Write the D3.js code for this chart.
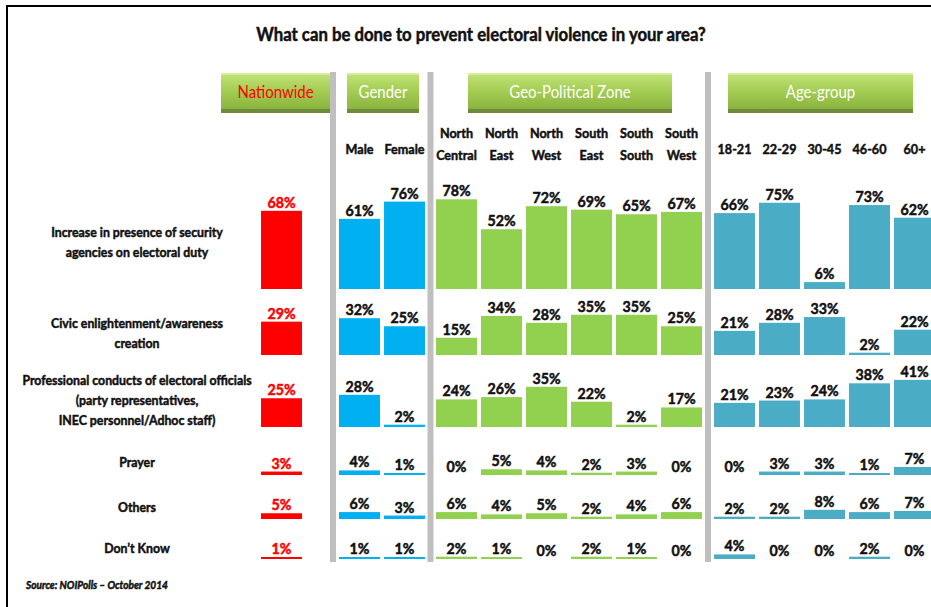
<!DOCTYPE html>
<meta charset="utf-8">
<script src="https://d3js.org/d3.v7.min.js"></script>
<style>
  body { margin: 0; background: #fff; }
  text { font-family: Lato, 'Open Sans', sans-serif; }
</style>
<div id="my_dataviz"></div>
<script>
  // answers (rows of the chart)
  var answers = [
    ["Increase in presence of security", "agencies on electoral duty"],
    ["Civic enlightenment/awareness", "creation"],
    ["Professional conducts of electoral officials", "(party representatives,", "INEC personnel/Adhoc staff)"],
    ["Prayer"],
    ["Others"],
    ["Don\u2019t Know"]
  ];

  // group headers and their columns
  var groupNames = ["Nationwide", "Gender", "Geo-Political Zone", "Age-group"];
  var nationwideCols = [[""]];
  var genderCols = [["Male"], ["Female"]];
  var zoneCols = [["North", "Central"], ["North", "East"], ["North", "West"], ["South", "East"], ["South", "South"], ["South", "West"]];
  var ageCols = [["18-21"], ["22-29"], ["30-45"], ["46-60"], ["60+"]];

  // values, one array per column, in answer order
  var nationwide = [[68, 29, 25, 3, 5, 1]];
  var gender = [
    [61, 32, 28, 4, 6, 1],
    [76, 25, 2, 1, 3, 1]
  ];
  var zones = [
    [78, 15, 24, 0, 6, 2],
    [52, 34, 26, 5, 4, 1],
    [72, 28, 35, 4, 5, 0],
    [69, 35, 22, 2, 2, 2],
    [65, 35, 2, 3, 4, 1],
    [67, 25, 17, 0, 6, 0]
  ];
  var ages = [
    [66, 21, 21, 0, 2, 4],
    [75, 28, 23, 3, 2, 0],
    [6, 33, 24, 3, 8, 0],
    [73, 2, 38, 1, 6, 2],
    [62, 22, 41, 7, 7, 0]
  ];

  var title = "What can be done to prevent electoral violence in your area?";
  var source = "Source: NOIPolls \u2013 October 2014";

  // layout
  var width = 931, height = 607;
  var rowBase = [289, 355, 427, 475, 519, 559];
  var rowLabelY = [242, 333, 400, 462, 507, 548];
  var groups = [
    {name: groupNames[0], cols: nationwideCols, vals: nationwide, range: [259, 304], box: [221, 330], color: "#ff0000", labelColor: "#ff0000", headColor: "#ff0000"},
    {name: groupNames[1], cols: genderCols, vals: gender, range: [337, 427], box: [347, 419], color: "#00b0f0", labelColor: "#111", headColor: "#fff"},
    {name: groupNames[2], cols: zoneCols, vals: zones, range: [434, 704], box: [468, 672], color: "#92d050", labelColor: "#111", headColor: "#fff"},
    {name: groupNames[3], cols: ageCols, vals: ages, range: [712, 937], box: [728, 913], color: "#4bacc6", labelColor: "#111", headColor: "#fff"}
  ];
  var separators = [333, 430.5, 708];

  var svg = d3.select("#my_dataviz")
    .append("svg")
      .attr("width", width)
      .attr("height", height);

  // text squeezed horizontally to mimic the narrow face of the original
  function label(x, y, s, size, sx, o) {
    o = o || {};
    var g = svg.append("g")
      .attr("transform", "translate(" + x + "," + y + ") scale(" + sx + ",1)");
    var t = g.append("text")
      .attr("text-anchor", o.anchor || "middle")
      .style("font-size", size + "px")
      .style("font-weight", o.weight || "bold")
      .style("font-style", o.style || "normal")
      .style("fill", o.fill || "#111")
      .text(s);
    if (o.weight !== "normal") {
      t.style("stroke", o.fill || "#111").style("stroke-width", 0.5);
    }
    return t;
  }

  // frame
  svg.append("line").attr("x1", 6).attr("x2", width).attr("y1", 6).attr("y2", 6)
    .attr("stroke", "#000").attr("stroke-width", 2);
  svg.append("line").attr("x1", 7).attr("x2", 7).attr("y1", 5).attr("y2", height)
    .attr("stroke", "#000").attr("stroke-width", 2);

  // title
  label(481, 41, title, 18, 0.93);

  // gradient for header buttons
  var defs = svg.append("defs");
  var grad = defs.append("linearGradient").attr("id", "btn").attr("x1", 0).attr("x2", 0).attr("y1", 0).attr("y2", 1);
  grad.append("stop").attr("offset", "0%").attr("stop-color", "#c4e37c");
  grad.append("stop").attr("offset", "45%").attr("stop-color", "#a6cf55");
  grad.append("stop").attr("offset", "100%").attr("stop-color", "#8ab43f");

  // separators
  svg.selectAll(".sep")
    .data(separators)
    .enter()
    .append("rect")
      .attr("x", function(d) { return d - 3 })
      .attr("y", 72)
      .attr("width", 6)
      .attr("height", 490)
      .style("fill", "#bfbfbf");

  // bar height scale
  var h = d3.scaleLinear().domain([0, 100]).range([0, 115]);
  function barH(v) { return v > 0 ? Math.max(2, h(v)) : 0 }

  groups.forEach(function(g) {
    // header button
    var w = g.box[1] - g.box[0];
    svg.append("rect").attr("x", g.box[0]).attr("y", 73).attr("width", w).attr("height", 40)
      .style("fill", "#6f8a3c");
    svg.append("rect").attr("x", g.box[0]).attr("y", 73).attr("width", w).attr("height", 36)
      .style("fill", "url(#btn)");
    svg.append("rect").attr("x", g.box[0]).attr("y", 73).attr("width", w).attr("height", 2)
      .style("fill", "#d6ee98");
    label((g.box[0] + g.box[1]) / 2, 98, g.name, 17, 0.88, {weight: "normal", fill: g.headColor});

    var x = d3.scaleBand()
      .domain(d3.range(g.cols.length))
      .range(g.range)
      .paddingInner(0.09)
      .paddingOuter(0.045);

    // column labels
    g.cols.forEach(function(lines, i) {
      var y0 = lines.length > 1 ? 138 : 154;
      lines.forEach(function(l, k) {
        label(x(i) + x.bandwidth() / 2, y0 + k * 22, l, 14, 0.9);
      });
    });

    // bars and value labels
    g.vals.forEach(function(col, i) {
      var cells = col.map(function(v, r) { return {v: v, r: r} });
      svg.selectAll(null)
        .data(cells.filter(function(d) { return d.v > 0 }))
        .enter()
        .append("rect")
          .attr("x", x(i))
          .attr("width", x.bandwidth())
          .attr("y", function(d) { return rowBase[d.r] - barH(d.v) })
          .attr("height", function(d) { return barH(d.v) })
          .style("fill", g.color);
      cells.forEach(function(d) {
        label(x(i) + x.bandwidth() / 2, rowBase[d.r] - barH(d.v) - 3, d.v + "%", 15, 0.95, {fill: g.labelColor});
      });
    });
  });

  // row labels
  answers.forEach(function(lines, r) {
    var y0 = rowLabelY[r] - (lines.length - 1) * 10 + 5;
    lines.forEach(function(l, k) {
      label(137, y0 + k * 20, l, 14, 0.88);
    });
  });

  // source
  label(26, 589, source, 11, 0.92, {anchor: "start", style: "italic"});
</script>
